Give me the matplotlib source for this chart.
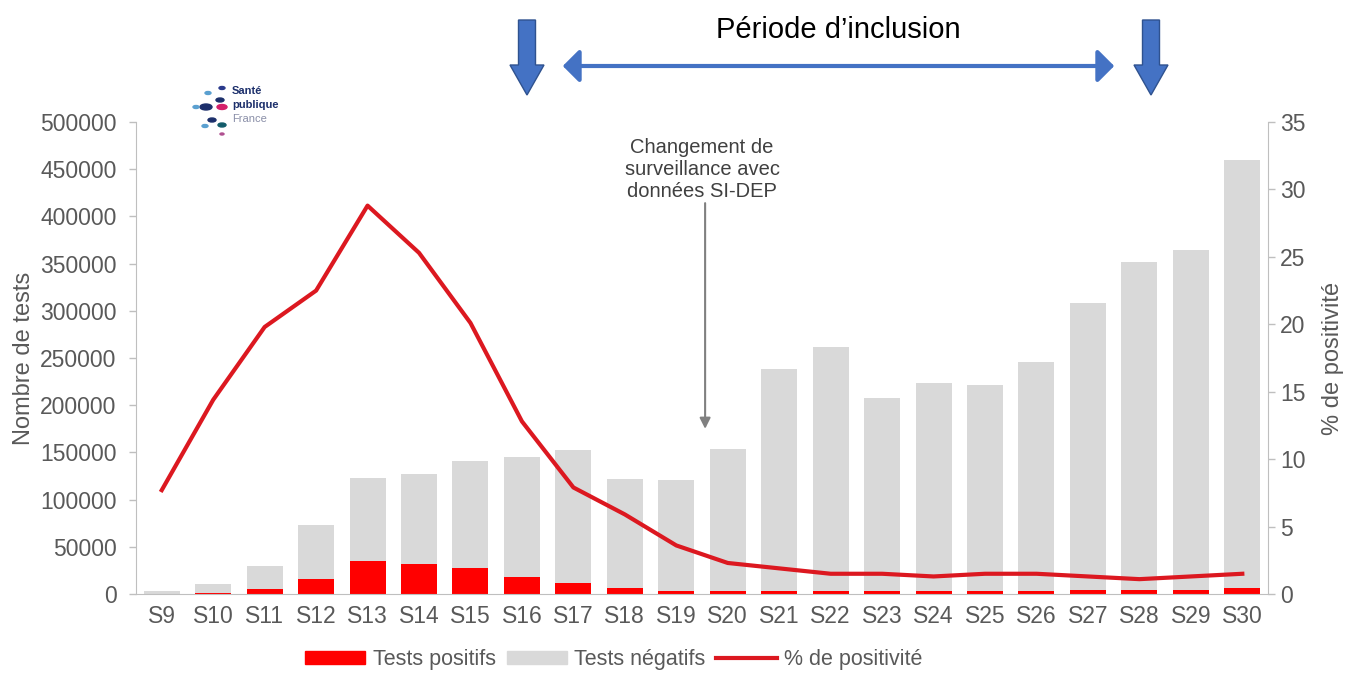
import numpy as np
import matplotlib.pyplot as plt
from matplotlib.patches import FancyArrow, FancyArrowPatch, Patch
from matplotlib.lines import Line2D

# semaines S9 .. S30
semaines = ["S%d" % i for i in range(9, 31)]
tests_total = [3000, 11000, 30000, 73000, 123000, 127000, 141000, 145000, 153000,
               122000, 121000, 154000, 238000, 262000, 208000, 223000, 221000,
               246000, 308000, 352000, 364000, 460000]
tests_positifs = [300, 1200, 5500, 16000, 35000, 32000, 28000, 18500, 12000,
                  6000, 3500, 3000, 3500, 3500, 2800, 3000, 3000, 3000, 3800,
                  4000, 4000, 6500]
pct_positivite = [7.7, 14.4, 19.8, 22.5, 28.8, 25.3, 20.1, 12.8, 7.9, 5.9, 3.6,
                  2.3, 1.9, 1.5, 1.5, 1.3, 1.5, 1.5, 1.3, 1.1, 1.3, 1.5]

grey_txt = "#595959"
fs = 16.5

plt.rcParams['font.family'] = ['Liberation Sans', 'DejaVu Sans']

fig = plt.figure(figsize=(13.52, 6.73), dpi=100)
ax = fig.add_axes([0.1006, 0.1174, 0.8373, 0.7013])

x = np.arange(len(semaines))
tests_neg = np.array(tests_total) - np.array(tests_positifs)
ax.bar(x, tests_positifs, width=0.7, color="#ff0000", zorder=2)
ax.bar(x, tests_neg, width=0.7, bottom=tests_positifs, color="#d9d9d9", zorder=2)
ax.set_xlim(-0.5, len(semaines) - 0.5)
ax.set_ylim(0, 500000)
ax.set_yticks(np.arange(0, 500001, 50000))
ax.set_xticks(x)
ax.set_xticklabels(semaines)
ax.tick_params(axis='both', colors="#bfbfbf", labelcolor=grey_txt, labelsize=fs,
               length=5, width=1)
ax.tick_params(axis='y', pad=9)
ax.tick_params(axis='x', length=0, pad=8)
ax.set_ylabel("Nombre de tests", color=grey_txt, fontsize=fs + 0.5, labelpad=4)
for s in ["top", "right"]:
    ax.spines[s].set_visible(False)
ax.spines["left"].set_color("#bfbfbf")
ax.spines["bottom"].set_color("#bfbfbf")

ax2 = ax.twinx()
ax2.plot(x, pct_positivite, color="#dc1820", lw=3, zorder=3)
ax2.set_ylim(0, 35)
ax2.set_yticks(np.arange(0, 36, 5))
ax2.tick_params(axis='y', colors="#bfbfbf", labelcolor=grey_txt, labelsize=fs,
                length=5, width=1)
ax2.set_ylabel("% de positivité", color=grey_txt, fontsize=fs + 0.5, labelpad=12)
for s in ["top", "left", "bottom"]:
    ax2.spines[s].set_visible(False)
ax2.spines["right"].set_color("#bfbfbf")

# annotation changement de surveillance
ax.annotate("", xy=(10.56, 172000), xytext=(10.56, 417000),
            arrowprops=dict(arrowstyle="-|>", color="#808080", lw=1.5,
                            mutation_scale=16))
ax.text(10.5, 450000, "Changement de\nsurveillance avec\ndonnées SI-DEP",
        ha="center", va="center", fontsize=14.5, color="#404040",
        linespacing=1.2)

# légende
handles = [Patch(color="#ff0000"), Patch(color="#d9d9d9"),
           Line2D([0], [0], color="#dc1820", lw=3)]
leg = fig.legend(handles, ["Tests positifs", "Tests négatifs", "% de positivité"],
                 loc="center", bbox_to_anchor=(0.454, 0.02), ncol=3, frameon=False,
                 fontsize=15.5, handlelength=2.8, handleheight=0.5, columnspacing=0.5,
                 handletextpad=0.35)
for t in leg.get_texts():
    t.set_color(grey_txt)

# flèches "Période d'inclusion" (coordonnées figure)
blue = "#4472c4"
edge = "#2f528f"
for xa in [527 / 1352, 1151 / 1352]:
    fig.patches.append(FancyArrow(xa, 1 - 20 / 673, 0, -75 / 673, width=17 / 1352,
                                  head_width=34 / 1352, head_length=30 / 673,
                                  length_includes_head=True, transform=fig.transFigure,
                                  facecolor=blue, edgecolor=edge, lw=1))
fig.patches.append(FancyArrowPatch((560 / 1352, 1 - 66 / 673), (1117 / 1352, 1 - 66 / 673),
                                   arrowstyle="<|-|>,head_length=0.5,head_width=0.5",
                                   mutation_scale=20, lw=3, color=blue,
                                   transform=fig.transFigure))
fig.text(838 / 1352, 1 - 30 / 673, "Période d’inclusion", ha="center", va="center",
         fontsize=21, color="black")

# logo Santé publique France
dots = [(222, 88, 3, "#2a3a8c"), (208, 93, 3, "#5aa0d0"), (220, 100, 4, "#1c2f6b"),
        (206, 107, 6, "#1c2f6b"), (222, 107, 5, "#d4206a"), (196, 107, 3, "#5aa0d0"),
        (212, 120, 4, "#1c2f6b"), (222, 125, 4, "#135c6b"), (205, 126, 3, "#5aa0d0"),
        (222, 134, 2, "#b05090")]
for dx, dy, r, c in dots:
    fig.patches.append(plt.Circle((dx / 1352, 1 - dy / 673), r / 1352,
                                  transform=fig.transFigure, color=c))
fig.text(232 / 1352, 1 - 91 / 673, "Santé", fontsize=8, color="#1c2f6b",
         fontweight="bold", va="center")
fig.text(232 / 1352, 1 - 105 / 673, "publique", fontsize=8, color="#1c2f6b",
         fontweight="bold", va="center")
fig.text(232 / 1352, 1 - 119 / 673, "France", fontsize=8, color="#8a8fa8",
         va="center")

fig.savefig("out.png", dpi=100)
